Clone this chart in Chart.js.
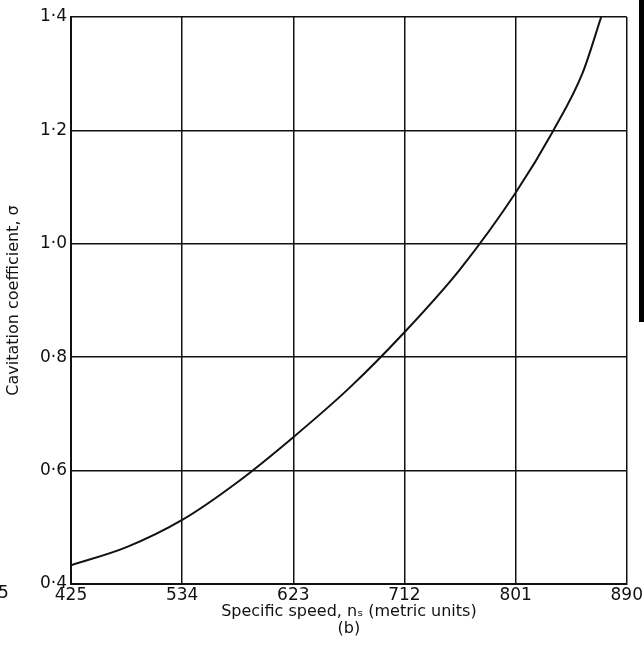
<!DOCTYPE html>
<html>
<head>
<meta charset="utf-8">
<script src="https://cdn.jsdelivr.net/npm/chart.js@4"></script>
<style>
  html, body { margin: 0; padding: 0; background: #fff; }
  #wrap { width: 644px; height: 664px; position: relative; }
</style>
</head>
<body>
<div id="wrap"><canvas id="grafico"></canvas></div>
<script>
// tick labels are evenly spaced on the original axis, so x is the tick position
const tickLabels = ['425', '534', '623', '712', '801', '890'];
const speedPos = [0, 0.5, 1, 1.5, 2, 2.5, 3, 3.5, 4, 4.34, 4.6, 4.77];
const sigma = [0.433, 0.465, 0.513, 0.58, 0.659, 0.745, 0.844, 0.955, 1.09, 1.2, 1.3, 1.4];

const ink = '#111';
const fuente = 'DejaVu Sans';

// the scan also shows a black strip at the right edge and a cut label at the left
const bordes = {
    id: 'bordes',
    afterDraw(chart) {
        const ctx = chart.ctx;
        ctx.save();
        ctx.fillStyle = '#000';
        ctx.fillRect(639, 0, 5, 322);
        ctx.font = '17px ' + fuente;
        ctx.fillStyle = ink;
        ctx.textBaseline = 'middle';
        ctx.fillText('5', -2, 594);
        ctx.restore();
    }
};

const ctx = document.getElementById('grafico').getContext('2d');
new Chart(ctx, {
    type: 'line',
    data: {
        datasets: [{
            label: 'σ',
            data: speedPos.map((x, i) => ({ x: x, y: sigma[i] })),
            borderColor: ink,
            borderWidth: 2,
            pointRadius: 0,
            cubicInterpolationMode: 'monotone',
            fill: false
        }]
    },
    options: {
        responsive: true,
        maintainAspectRatio: false,
        animation: false,
        layout: { padding: { top: 17, right: 15, left: 0, bottom: 26 } },
        plugins: { legend: { display: false }, tooltip: { enabled: false } },
        scales: {
            x: {
                type: 'linear',
                min: 0,
                max: 5,
                afterFit: scale => { scale.height = 54; },
                ticks: {
                    stepSize: 1,
                    color: ink,
                    font: { family: fuente, size: 17 },
                    padding: 1,
                    maxRotation: 0,
                    callback: v => tickLabels[v]
                },
                grid: { color: ink, lineWidth: 1.5, drawTicks: false },
                border: { color: ink, width: 2 },
                title: {
                    display: true,
                    text: ['Specific speed, nₛ (metric units)', '(b)'],
                    color: ink,
                    font: { family: fuente, size: 16, lineHeight: 1.1 },
                    padding: { top: 0, bottom: 0 }
                }
            },
            y: {
                min: 0.4,
                max: 1.4,
                afterFit: scale => { scale.width = 71; },
                ticks: {
                    stepSize: 0.2,
                    color: ink,
                    font: { family: fuente, size: 17 },
                    padding: 4,
                    callback: v => v.toFixed(1).replace('.', '·')
                },
                grid: { color: ink, lineWidth: 1.5, drawTicks: false },
                border: { color: ink, width: 2 },
                title: {
                    display: true,
                    text: 'Cavitation coefficient, σ',
                    color: ink,
                    font: { family: fuente, size: 16 },
                    padding: { bottom: 2 }
                }
            }
        }
    },
    plugins: [bordes]
});
</script>
</body>
</html>
